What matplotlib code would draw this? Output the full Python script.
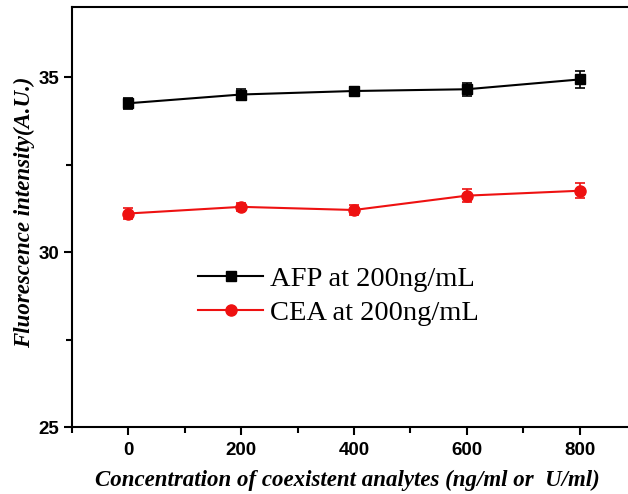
import matplotlib.pyplot as plt
from matplotlib.ticker import MultipleLocator

# data
conc = [0, 200, 400, 600, 800]
afp = [34.25, 34.50, 34.60, 34.65, 34.93]
afp_err = [0.15, 0.15, 0.12, 0.19, 0.25]
cea = [31.10, 31.29, 31.20, 31.61, 31.75]
cea_err = [0.15, 0.12, 0.15, 0.19, 0.21]

fig = plt.figure(figsize=(6.28, 4.94), dpi=100)
# axes runs slightly past the right edge, like the cropped original
ax = fig.add_axes([72 / 628, 67 / 494, 564 / 628, 420 / 494])

ax.errorbar(conc, afp, yerr=afp_err, color='black', marker='s', markersize=7,
            linewidth=1.5, capsize=3.5, elinewidth=1.2, capthick=1.2,
            label='AFP at 200ng/mL')
ax.errorbar(conc, cea, yerr=cea_err, color='#ee1111', marker='o', markersize=8,
            linewidth=1.5, capsize=3.5, elinewidth=1.2, capthick=1.2,
            label='CEA at 200ng/mL')

ax.set_xlim(-100, 900)
ax.set_ylim(25, 37)
ax.xaxis.set_major_locator(MultipleLocator(200))
ax.xaxis.set_minor_locator(MultipleLocator(100))
ax.yaxis.set_major_locator(MultipleLocator(5))
ax.yaxis.set_minor_locator(MultipleLocator(2.5))
ax.set_xticks([0, 200, 400, 600, 800])

for s in ('left', 'bottom', 'top'):
    ax.spines[s].set_linewidth(1.5)
ax.spines['right'].set_visible(False)
ax.tick_params(which='both', direction='out', width=1.5, top=False, right=False)
ax.tick_params(which='major', length=6)
ax.tick_params(axis='x', which='major', pad=5)
ax.tick_params(axis='y', which='major', pad=3)
ax.tick_params(which='minor', length=4)
for lab in ax.get_xticklabels() + ax.get_yticklabels():
    lab.set_fontfamily('Liberation Sans')
    lab.set_fontweight('bold')
    lab.set_fontsize(13.5)

lab_font = dict(family='Liberation Serif', style='italic', weight='bold', size=16.5)
ax.set_xlabel('Concentration of coexistent analytes (ng/ml or  U/ml)', **lab_font)
ax.set_ylabel('Fluorescence intensity(A.U.)', **lab_font)
ax.xaxis.set_label_coords(0.489, -0.103)
ax.yaxis.set_label_coords(-0.066, 0.512)

handles, labels = ax.get_legend_handles_labels()
handles = [h[0] for h in handles]
ax.legend(handles, labels, loc='center left', bbox_to_anchor=(0.223, 0.312),
          frameon=False, prop={'family': 'Liberation Serif', 'size': 20.5},
          handlelength=2.3, handletextpad=0.25, labelspacing=0.28,
          borderpad=0, borderaxespad=0)

fig.savefig('out.png', dpi=100)
